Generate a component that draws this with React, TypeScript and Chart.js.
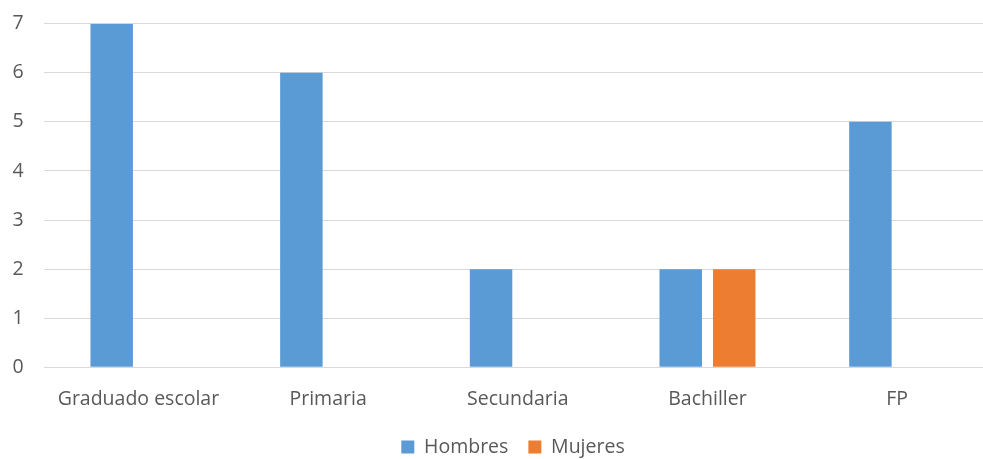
import React, { useEffect, useRef } from "react";
import { Chart, registerables } from "chart.js";

Chart.register(...registerables);

const categories = ["Graduado escolar", "Primaria", "Secundaria", "Bachiller", "FP"];
const hombres = [7, 6, 2, 2, 5];
const mujeres = [0, 0, 0, 2, 0];
const yTicks = [0, 1, 2, 3, 4, 5, 6, 7];

const FONT = "'Open Sans', 'Noto Sans', sans-serif";
const TEXT = "#595959";
const LEGEND_PAD = 20;
const CANVAS_W = 1026;

const legendHeightPlugin = {
  id: "legendHeight",
  afterInit(chart: any) {
    const lg = chart.legend;
    if (!lg) return;
    const orig = lg.fit.bind(lg);
    lg.fit = function () {
      orig();
      this.height = 21.75 + LEGEND_PAD;
    };
  },
  afterLayout(chart: any) {
    const lg = chart.legend;
    if (!lg) return;
    lg.left = 0;
    lg.right = CANVAS_W;
    lg.width = CANVAS_W;
  },
};

export default function App() {
  const ref = useRef<HTMLCanvasElement | null>(null);
  useEffect(() => {
    document.body.style.margin = "0";
    const chart = new Chart(ref.current!, {
      type: "bar",
      data: {
        labels: categories,
        datasets: [
          { label: "Hombres", data: hombres, backgroundColor: "#5B9BD5", borderWidth: 0, categoryPercentage: 0.564, barPercentage: 0.794 },
          { label: "Mujeres", data: mujeres, backgroundColor: "#ED7D31", borderWidth: 0, categoryPercentage: 0.564, barPercentage: 0.794 },
        ],
      },
      plugins: [legendHeightPlugin],
      options: {
        animation: false,
        responsive: false,
        maintainAspectRatio: false,
        layout: { padding: { top: 23.7, right: 34, left: 0, bottom: 0 } },
        plugins: {
          tooltip: { enabled: false },
          legend: {
            position: "bottom",
            labels: {
              boxWidth: 13,
              boxHeight: 13,
              padding: LEGEND_PAD,
              color: TEXT,
              font: { family: FONT, size: 19.5 },
            },
          },
        },
        scales: {
          x: {
            grid: { display: false },
            border: { display: false },
            ticks: { color: TEXT, font: { family: FONT, size: 19.5 }, padding: 12, maxRotation: 0 },
            afterFit: (s: any) => { s.height = 459 - 367.3 - (21.75 + LEGEND_PAD); },
          },
          y: {
            min: 0,
            max: 7,
            afterBuildTicks: (s: any) => { s.ticks = yTicks.map((v) => ({ value: v })); },
            grid: { color: "#D9D9D9", lineWidth: 1, drawTicks: false },
            border: { display: false },
            ticks: { color: TEXT, font: { family: FONT, size: 19.5 }, padding: 20 },
            afterFit: (s: any) => { s.width = 43.6; s.paddingTop = 0; s.paddingBottom = 0; },
          },
        },
      },
    });
    return () => chart.destroy();
  }, []);
  return (
    <div style={{ position: "fixed", left: 0, top: 0, width: CANVAS_W, height: 459 }}>
      <canvas ref={ref} width={CANVAS_W} height={459} style={{ width: CANVAS_W, height: 459 }} />
    </div>
  );
}
